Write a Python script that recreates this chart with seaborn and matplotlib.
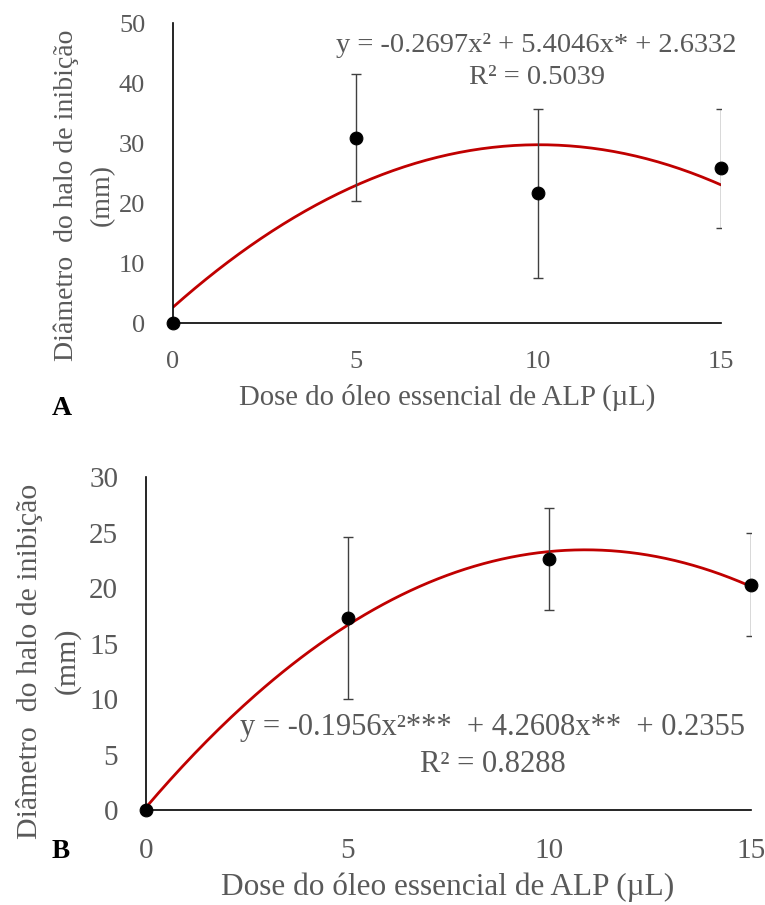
import numpy as np
import pandas as pd
import matplotlib
matplotlib.use("Agg")
import matplotlib.pyplot as plt
import seaborn as sns

# doses (µL) e médias do halo de inibição (mm) com desvio
dose = [0, 5, 10, 15]

halo_a = [0, 30.9, 21.6, 25.8]
desvio_a = [0, 10.6, 14.1, 9.9]
coef_a = [-0.2697, 5.4046, 2.6332]
eq_a = "y = -0.2697x² + 5.4046x* + 2.6332\nR² = 0.5039"

halo_b = [0, 17.3, 22.6, 20.3]
desvio_b = [0, 7.3, 4.6, 4.65]
coef_b = [-0.1956, 4.2608, 0.2355]
eq_b = "y = -0.1956x²***  + 4.2608x**  + 0.2355\nR² = 0.8288"

ylim_a = (0, 50)
ylim_b = (0, 30)
yticks_a = [0, 10, 20, 30, 40, 50]
yticks_b = [0, 5, 10, 15, 20, 25, 30]

sns.set_theme(style="white")
plt.rcParams["font.family"] = ["Liberation Serif", "DejaVu Serif"]

cinza = "#595959"
vermelho = "#C00000"

fig = plt.figure(figsize=(7.65, 9.05), dpi=100)
W, H = 765, 905


def px_axes(l, t, r, b):
    return fig.add_axes([l / W, 1 - b / H, (r - l) / W, (b - t) / H])


ax_a = px_axes(173, 23, 721, 323)
ax_b = px_axes(146, 477, 751, 810)


def painel(ax, halo, desvio, coef, eq, ylim, yticks, eq_pos, fs_tick, fs_eq, ls_eq):
    xs = np.linspace(0, 15, 200)
    curva = pd.DataFrame({"x": xs, "y": np.polyval(coef, xs)})
    sns.lineplot(data=curva, x="x", y="y", ax=ax, color=vermelho, lw=2)
    ax.errorbar(dose, halo, yerr=desvio, fmt="none", ecolor="#404040",
                elinewidth=1, capsize=3.5, capthick=1)
    df = pd.DataFrame({"dose": dose, "halo": halo})
    sns.scatterplot(data=df, x="dose", y="halo", ax=ax, color="black",
                    s=85, edgecolor="black", zorder=5, clip_on=False)
    ax.set_xlim(0, 15)
    ax.set_ylim(*ylim)
    ax.set_xticks(dose)
    ax.set_yticks(yticks)
    ax.tick_params(axis="both", length=0, labelsize=fs_tick, labelcolor=cinza)
    ax.tick_params(axis="y", pad=20)
    ax.tick_params(axis="x", pad=20)
    for s in ["top", "right"]:
        ax.spines[s].set_visible(False)
    for s in ["left", "bottom"]:
        ax.spines[s].set_color("black")
        ax.spines[s].set_linewidth(1.2)
    ax.set_xlabel("")
    ax.set_ylabel("")
    ax.text(eq_pos[0], eq_pos[1], eq, ha="center", va="center", fontsize=fs_eq,
            color=cinza, linespacing=ls_eq)


painel(ax_a, halo_a, desvio_a, coef_a, eq_a, ylim_a, yticks_a, (9.95, 43.6),
       19, 20.5, 1.33)
painel(ax_b, halo_b, desvio_b, coef_b, eq_b, ylim_b, yticks_b, (8.6, 5.76),
       21, 22, 1.4)

rotulo_y = "Diâmetro  do halo de inibição\n(mm)"
rotulo_x = "Dose do óleo essencial de ALP (µL)"
fig.text(84 / W, 1 - 195 / H, rotulo_y, rotation=90, ha="center", va="center",
         fontsize=20, color=cinza, linespacing=1.55)
fig.text(48 / W, 1 - 661 / H, rotulo_y, rotation=90, ha="center", va="center",
         fontsize=21.5, color=cinza, linespacing=1.52)
fig.text(447 / W, 1 - 397 / H, rotulo_x, ha="center", va="center",
         fontsize=20.7, color=cinza)
fig.text(448 / W, 1 - 887 / H, rotulo_x, ha="center", va="center",
         fontsize=22.5, color=cinza)
fig.text(52 / W, 1 - 408 / H, "A", ha="left", va="center", fontsize=20,
         fontweight="bold", color="black")
fig.text(52 / W, 1 - 851 / H, "B", ha="left", va="center", fontsize=19.5,
         fontweight="bold", color="black")

fig.savefig("out.png", dpi=100)
